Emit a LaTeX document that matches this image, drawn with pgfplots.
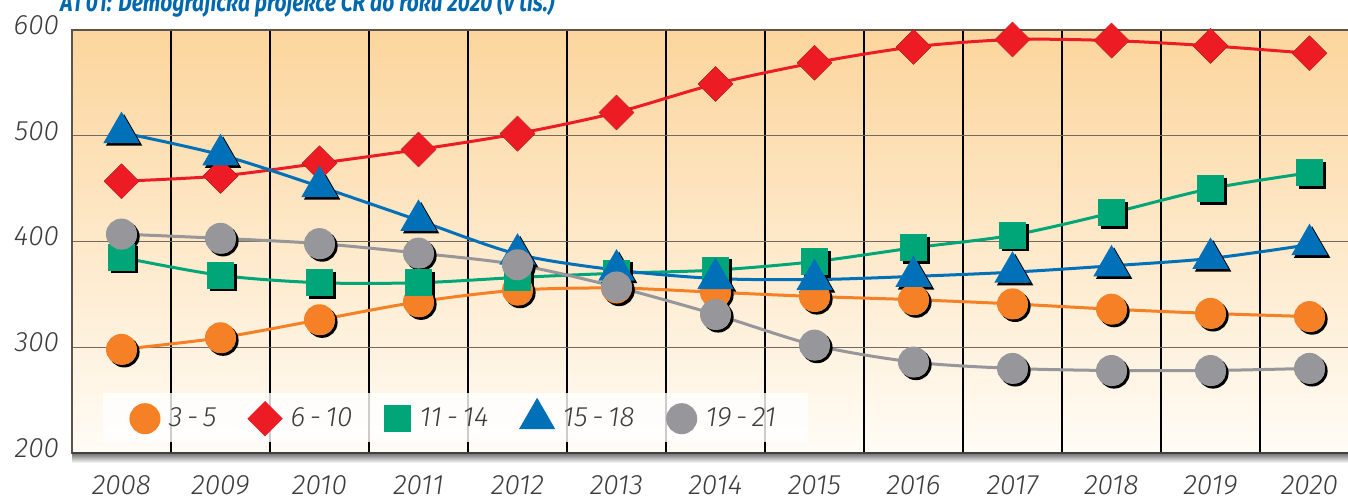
\documentclass[border=0pt]{standalone}
\usepackage{pgfplots}
\pgfplotsset{compat=1.18}
\usepackage{pgfplotstable}
\usepackage{graphicx}
\usepackage{fontspec}
\setmainfont{Fira Sans}[UprightFont={* Light}, ItalicFont={* Light Italic}]
\newfontfamily\titlefont{Fira Sans}
\definecolor{corange}{RGB}{245,128,37}
\definecolor{cred}{RGB}{237,28,36}
\definecolor{cgreen}{RGB}{0,166,120}
\definecolor{cblue}{RGB}{0,112,185}
\definecolor{cgray}{RGB}{150,150,155}
\definecolor{bgtop}{RGB}{252,213,156}
\definecolor{bgbot}{RGB}{255,252,246}
\definecolor{txt}{RGB}{60,60,60}
\definecolor{gridh}{RGB}{115,105,95}
\definecolor{ctitle}{RGB}{0,104,172}

\pgfplotstableread{
x a b c d e
0 298 457 385 503 407
1 309 462 368 482 403
2 326 474 361 452 398
3 343 487 361 420 389
4 354 502 366 388 378
5 356 522 370 373 357
6 352 549 373 365 331
7 348 569 381 364 302
8 345 584 394 367 286
9 341 591 406 371 280
10 336 590 427 377 278
11 332 585 450 384 278
12 329 578 465 397 280
}\data

\pgfplotsset{
  shadowmark/.style={forget plot, only marks, mark options={draw=none, fill=black, fill opacity=0.28, xshift=1.3pt, yshift=-1.3pt}},
}

\begin{document}
\begin{tikzpicture}
\begin{axis}[
  name=ax, at={(0,0)}, anchor=south west,
  scale only axis, width=643.5pt, height=211.5pt,
  xmin=-0.5, xmax=12.5, ymin=200, ymax=600,
  xtick={0,1,2,3,4,5,6,7,8,9,10,11,12},
  xticklabels={2008,2009,2010,2011,2012,2013,2014,2015,2016,2017,2018,2019,2020},
  minor xtick={0.5,1.5,2.5,3.5,4.5,5.5,6.5,7.5,8.5,9.5,10.5,11.5},
  xminorgrids=true,
  minor grid style={black, line width=0.6pt},
  ytick={200,300,400,500,600},
  ymajorgrids=true,
  major grid style={gridh, line width=0.7pt},
  major tick length=0pt, minor tick length=0pt,
  axis line style={draw=gridh!80!black, line width=0.7pt},
  axis background/.style={top color=bgtop, bottom color=bgbot},
  /pgf/number format/assume math mode=true,
  ticklabel style={font=\fontsize{14}{16}\selectfont\itshape, text=txt},
  yticklabel style={xshift=-3pt, yshift=2.5pt},
  xticklabel style={yshift=-7.5pt},
  legend style={at={(0.298,0.084)}, anchor=center, fill=white, fill opacity=0.8, text opacity=1, draw=none,
    font=\fontsize{14}{16}\selectfont\itshape, text=txt, inner xsep=14pt, inner ysep=4pt,
    /tikz/every even column/.append style={column sep=14.5pt},
    /tikz/every odd column/.append style={column sep=3pt}},
  legend columns=5,
  legend image code/.code={\draw[#1, only marks, every mark/.append style={fill opacity=1, draw=none}] plot coordinates {(0.3cm,0cm)};},
  every axis plot/.append style={line width=1.5pt, smooth},
]
% shadows
\addplot[shadowmark, mark=*, mark size=7pt] table[x=x,y=e]{\data};
\addplot[shadowmark, mark=*, mark size=7pt] table[x=x,y=a]{\data};
\addplot[shadowmark, mark=square*, mark size=5.5pt, mark options={rotate=45}] table[x=x,y=b]{\data};
\addplot[shadowmark, mark=square*, mark size=6pt] table[x=x,y=c]{\data};
\addplot[shadowmark, mark=triangle*, mark size=9pt] table[x=x,y=d]{\data};
% series
\addplot[color=corange, mark=*, mark size=7pt, mark options={solid, fill=corange, draw=none}] table[x=x,y=a]{\data};
\addlegendentry{3\,-\,5}
\addplot[color=cred, mark=square*, mark size=5.5pt, mark options={solid, rotate=45, fill=cred, draw=none}] table[x=x,y=b]{\data};
\addlegendentry{6\,-\,10}
\addplot[color=cgreen, mark=square*, mark size=6pt, mark options={solid, fill=cgreen, draw=none}] table[x=x,y=c]{\data};
\addlegendentry{11\,-\,14}
\addplot[color=cblue, mark=triangle*, mark size=9pt, mark options={solid, fill=cblue, draw=none}] table[x=x,y=d]{\data};
\addlegendentry{15\,-\,18}
\addplot[color=cgray, mark=*, mark size=7pt, mark options={solid, fill=cgray, draw=none}] table[x=x,y=e]{\data};
\addlegendentry{19\,-\,21}
\end{axis}
\shade[top color=black!50, bottom color=white] ([yshift=-0.6pt]ax.south west) rectangle ([yshift=-5pt]ax.south east);
\draw[line width=1.2pt, black!75] (ax.south west) -- (ax.south east);
\node[anchor=base west, inner sep=0, text=ctitle, font=\titlefont\bfseries\itshape\fontsize{13}{15}\selectfont]
  at (-6pt,221pt) {\resizebox{247pt}{\height}{A1 01: Demografická projekce ČR do roku 2020 (v tis.)}};
\pgfresetboundingbox
\useasboundingbox (-36pt,-23.5pt) rectangle (638pt,226.5pt);
\end{tikzpicture}
\end{document}
